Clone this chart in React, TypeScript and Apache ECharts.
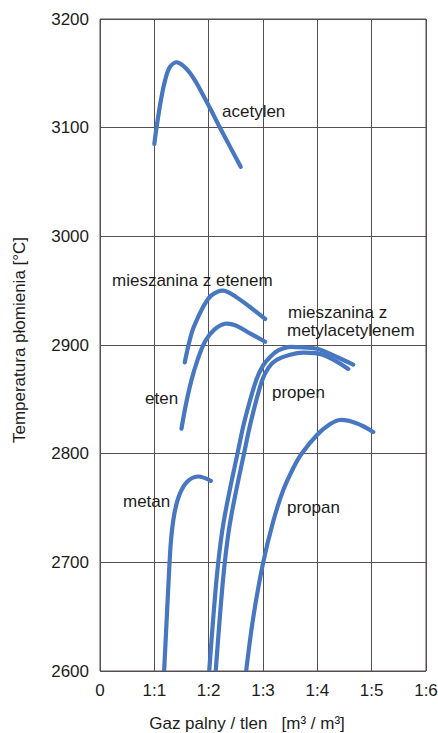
import React, { useEffect, useRef } from "react";
import * as echarts from "echarts";

// Fuel-gas / oxygen ratio (x) vs. flame temperature in °C (y)
const acetylen: number[][] = [
  [1.0, 3085], [1.04, 3100], [1.12, 3125], [1.2, 3144], [1.29, 3156], [1.43, 3160],
  [1.66, 3150], [1.95, 3125], [2.25, 3096], [2.59, 3064],
];
const mieszaninaZEtenem: number[][] = [
  [1.56, 2884], [1.62, 2898], [1.7, 2913], [1.8, 2925], [1.92, 2937], [2.06, 2946],
  [2.27, 2950], [2.51, 2944], [2.76, 2935], [3.04, 2924],
];
const eten: number[][] = [
  [1.5, 2823], [1.58, 2845], [1.68, 2867], [1.8, 2887], [1.94, 2904], [2.1, 2914],
  [2.3, 2919.5], [2.5, 2918], [2.75, 2911], [3.04, 2903],
];
const metan: number[][] = [
  [1.18, 2600], [1.22, 2640], [1.27, 2690], [1.31, 2722], [1.37, 2745], [1.46, 2762],
  [1.6, 2774], [1.8, 2779], [2.04, 2775],
];
const mieszaninaZMetylacetylenem: number[][] = [
  [2.01, 2600], [2.08, 2646], [2.16, 2692], [2.25, 2729], [2.35, 2757], [2.53, 2800],
  [2.66, 2830], [2.87, 2867], [3.0, 2881], [3.13, 2889], [3.28, 2895], [3.46, 2898],
  [3.63, 2898], [3.99, 2896.5], [4.36, 2889], [4.66, 2882],
];
const propen: number[][] = [
  [2.13, 2600], [2.2, 2646], [2.28, 2692], [2.37, 2729], [2.47, 2757], [2.65, 2800],
  [2.78, 2830], [2.98, 2867], [3.1, 2879], [3.24, 2886], [3.5, 2891], [3.74, 2893],
  [4.1, 2891], [4.57, 2878],
];
const propan: number[][] = [
  [2.69, 2600], [2.82, 2649], [3.0, 2699], [3.19, 2738], [3.37, 2766], [3.56, 2787],
  [3.71, 2800], [3.99, 2817], [4.23, 2827], [4.42, 2831], [4.72, 2828], [5.03, 2820],
];

const xTicks = ["0", "1:1", "1:2", "1:3", "1:4", "1:5", "1:6"];

const curveSeries = [
  { name: "acetylen", data: acetylen },
  { name: "mieszanina z etenem", data: mieszaninaZEtenem },
  { name: "eten", data: eten },
  { name: "metan", data: metan },
  { name: "mieszanina z metylacetylenem", data: mieszaninaZMetylacetylenem },
  { name: "propen", data: propen },
  { name: "propan", data: propan },
];

// Curve captions: [text, left x, middle y]
const captions: [string, number, number][] = [
  ["acetylen", 222, 111],
  ["mieszanina z etenem", 112, 280],
  ["mieszanina z", 288, 312],
  ["metylacetylenem", 287, 330],
  ["eten", 145, 398],
  ["propen", 272, 392],
  ["metan", 123, 501],
  ["propan", 287, 507],
];

const FONT = "'Liberation Sans', Arial, Helvetica, sans-serif";
const FS = 17;
const LINE = "#4677c0";
const GRID = "#574f4f";
const TEXT = "#1c1c1c";

export default function App() {
  const ref = useRef<HTMLDivElement>(null);

  useEffect(() => {
    if (!ref.current) return;
    const chart = echarts.init(ref.current, undefined, { renderer: "svg" });
    chart.setOption({
      animation: false,
      backgroundColor: "#ffffff",
      grid: {
        left: 100,
        right: 12,
        top: 19,
        bottom: 62,
        containLabel: false,
        outerBoundsMode: "none",
        show: true,
        borderColor: GRID,
        borderWidth: 1,
      },
      xAxis: {
        type: "value",
        min: 0,
        max: 6,
        interval: 1,
        axisLine: { show: false },
        axisTick: { show: false },
        splitLine: { show: true, lineStyle: { color: GRID, width: 1 } },
        axisLabel: {
          margin: 11,
          fontSize: FS,
          fontFamily: FONT,
          color: TEXT,
          formatter: (v: number) => xTicks[Math.round(v)] ?? "",
        },
        name: "Gaz palny / tlen   [m³ / m³]",
        nameLocation: "middle",
        nameGap: 44,
        nameTextStyle: {
          fontSize: FS,
          fontFamily: FONT,
          color: TEXT,
          padding: [0, 32, 0, 0],
        },
      },
      yAxis: {
        type: "value",
        min: 2600,
        max: 3200,
        interval: 100,
        axisLine: { show: false },
        axisTick: { show: false },
        splitLine: { show: true, lineStyle: { color: GRID, width: 1 } },
        axisLabel: {
          margin: 11,
          fontSize: FS,
          fontFamily: FONT,
          color: TEXT,
          formatter: (v: number) => String(v),
        },
        name: "Temperatura płomienia [°C]",
        nameLocation: "middle",
        nameGap: 72,
        nameTextStyle: {
          fontSize: FS,
          fontFamily: FONT,
          color: TEXT,
          padding: [0, 0, 0, 10],
        },
      },
      // Each curve is one smooth polyline through its points, placed with the axes' scales
      series: curveSeries.map((s) => ({
        name: s.name,
        type: "custom",
        data: s.data,
        encode: { x: 0, y: 1 },
        clip: true,
        silent: true,
        renderItem: (params: any, api: any) => {
          if (params.dataIndex !== 0) return null;
          const points = s.data.map((d) => api.coord(d));
          return {
            type: "polyline",
            shape: { points, smooth: 0.35 },
            style: {
              stroke: LINE,
              lineWidth: 4.2,
              fill: "none",
              lineCap: "round",
              lineJoin: "round",
            },
          };
        },
      })),
      graphic: captions.map(([text, x, y]) => ({
        type: "text",
        x,
        y,
        z: 10,
        style: {
          text,
          fill: TEXT,
          font: `${FS}px ${FONT}`,
          textVerticalAlign: "middle",
          verticalAlign: "middle",
        },
      })),
    });
    return () => chart.dispose();
  }, []);

  return (
    <div
      ref={ref}
      style={{ position: "absolute", left: 0, top: 0, width: 438, height: 733 }}
    />
  );
}
